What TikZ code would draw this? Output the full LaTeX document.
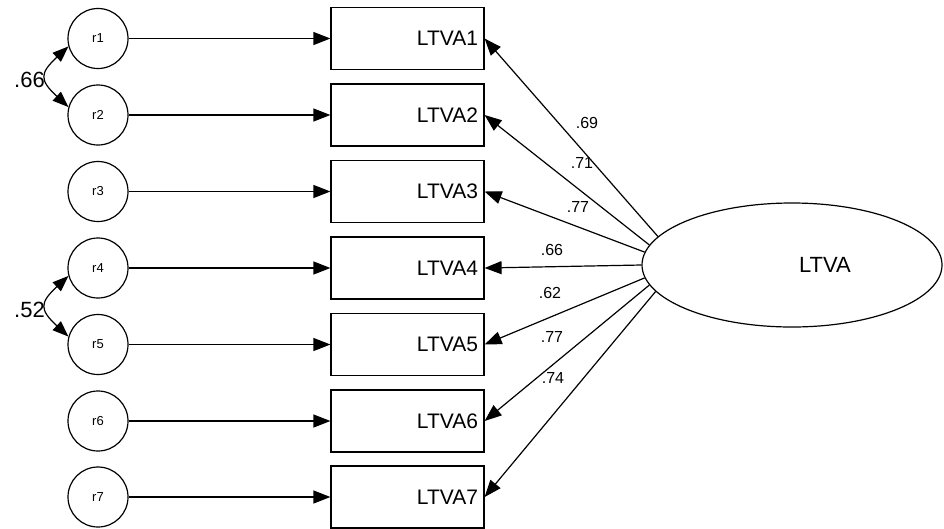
\documentclass[tikz,border=0pt]{standalone}
\usepackage{fontspec}
\setmainfont{Liberation Sans}
\usetikzlibrary{arrows.meta,shapes.geometric}
\begin{document}
\begin{tikzpicture}[x=1pt,y=-1pt,
  obs/.style={draw,line width=1.2pt,minimum width=153pt,minimum height=62pt,text width=141pt,inner sep=6pt,align=right,font=\fontsize{21}{23}\selectfont},
  err/.style={draw,circle,line width=1.2pt,minimum size=60pt,inner sep=0pt,font=\fontsize{13}{14}\selectfont},
  lat/.style={draw,ellipse,line width=1.2pt,minimum width=300pt,minimum height=124pt,inner sep=0pt,font=\fontsize{22}{24}\selectfont},
  pathline/.style={line width=1.2pt,-{Triangle[length=17pt,width=13pt]}},
  covline/.style={line width=1.2pt,{Triangle[length=16pt,width=12pt]}-{Triangle[length=16pt,width=12pt]}},
  coef/.style={font=\fontsize{16}{18}\selectfont,inner sep=0pt},
  bigcoef/.style={font=\fontsize{22}{24}\selectfont,inner sep=0pt,anchor=east}]
\useasboundingbox (0,0) rectangle (944,528);

\foreach \i/\y in {1/38.5,2/115,3/191.5,4/268,5/344.5,6/421,7/497}{
  \node[obs] (b\i) at (407.5,\y) {LTVA\i};
  \node[err] (r\i) at (98,\y) {r\i};
  \draw[pathline] (r\i.east) -- (b\i.west);
}

\node[lat] (L) at (792,265) {\hspace*{66pt}LTVA};

\draw[pathline] (L.168.5) -- (b1.east);
\draw[pathline] (L.172) -- (b2.east);
\draw[pathline] (L.175.4) -- (b3.east);
\draw[pathline] (L.180) -- (b4.east);
\draw[pathline] (L.185) -- (b5.east);
\draw[pathline] (L.188.6) -- (b6.east);
\draw[pathline] (L.191.4) -- (b7.east);

\node[coef] (l1) at (587,123) {.69};
\node[coef] (l2) at (582,163) {.71};
\node[coef] (l3) at (578,207) {.77};
\node[coef] (l4) at (552,250) {.66};
\node[coef] (l5) at (550,293) {.62};
\node[coef] (l6) at (552,337) {.77};
\node[coef] (l7) at (553,378) {.74};

\draw[covline] (r1.195) .. controls +(-29,27) and +(-29,-27) .. (r2.165);
\draw[covline] (r4.195) .. controls +(-29,27) and +(-29,-27) .. (r5.165);
\node[bigcoef] (c12) at (45,80) {.66};
\node[bigcoef] (c45) at (45,310) {.52};
\end{tikzpicture}
\end{document}
